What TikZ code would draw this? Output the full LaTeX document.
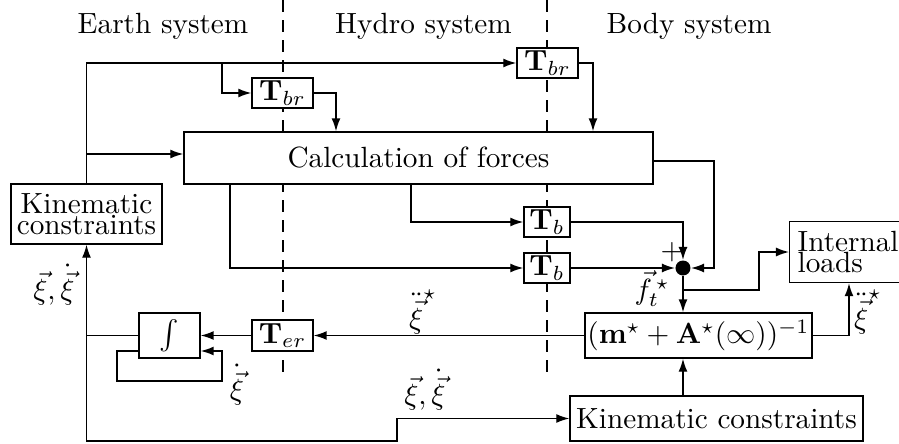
\documentclass[tikz,border=0pt]{standalone}
\usetikzlibrary{arrows.meta}
\def\px{0.342pt}
\begin{document}
\begin{tikzpicture}[x=0.342pt,y=-0.342pt,
  blk/.style={draw, fill=white, line width=0.5pt, inner sep=0pt, align=center},
  sig/.style={-{Latex[length=13*\px,width=9*\px]}, line width=0.5pt},
  wire/.style={line width=0.5pt},
  zone/.style={dash pattern=on 12*\px off 8*\px, line width=0.5pt},
  lbl/.style={inner sep=0pt}]
\useasboundingbox (0,0) rectangle (899,444);

% frame boundaries
\draw[zone] (283,0) -- (283,375);
\draw[zone] (547,0) -- (547,375);

% frame titles
\node[lbl, anchor=base] (earth) at (163,33) {Earth system};
\node[lbl, anchor=base] (hydro) at (423.5,33) {Hydro system};
\node[lbl, anchor=base] (body) at (689,33) {Body system};

% blocks
\node[blk, minimum width=61*\px, minimum height=30*\px] (tbr1) at (282.5,93) {$\mathbf{T}_{br}$};
\node[blk, minimum width=61*\px, minimum height=30*\px] (tbr2) at (547.5,63) {$\mathbf{T}_{br}$};
\node[blk, minimum width=469*\px, minimum height=52*\px] (calc) at (418.5,158) {Calculation of forces};
\node[blk, minimum width=46*\px, minimum height=30*\px] (tb1) at (547,222) {$\mathbf{T}_b$};
\node[blk, minimum width=46*\px, minimum height=30*\px] (tb2) at (547,268) {$\mathbf{T}_b$};
\node[circle, fill, inner sep=0pt, minimum size=15*\px] (sum) at (683,268) {};
\node[blk, minimum width=227*\px, minimum height=45*\px] (inv) at (698.5,335.5) {$(\mathbf{m}^\star+\mathbf{A}^\star(\infty))^{-1}$};
\node[blk, minimum width=293*\px, minimum height=45*\px] (kinb) at (716.5,418.5) {Kinematic constraints};
\node[blk, minimum width=151*\px, minimum height=60*\px] (kinl) at (86.5,214) {Kinematic\\[-4.8pt]constraints};
\node[blk, minimum width=61*\px, minimum height=45*\px] (int) at (169.5,335.5) {$\int$};
\node[blk, minimum width=61*\px, minimum height=31*\px] (ter) at (282.5,335.5) {$\mathbf{T}_{er}$};
\node[draw, line width=0.5pt, inner sep=8*\px, align=left, anchor=west, minimum height=61*\px] (il) at (789,252) {Internal\\[-4.8pt]loads};

% helper coordinates for wire routing
\coordinate (b1) at (222,63);
\coordinate (b2) at (87,154);
\coordinate (x336) at (336,0);
\coordinate (x593) at (593,0);
\coordinate (x230) at (230,0);
\coordinate (x411) at (411,0);
\coordinate (x849) at (849,0);
\coordinate (r1) at (714,161);
\coordinate (b3) at (683,290);
\coordinate (r2) at (759,290);
\coordinate (yl) at (0,351);
\coordinate (j) at (kinl.south |- int.west);

% rotation to the body frame
\draw[sig] (kinl.north) |- (tbr2.west);
\draw[sig] (b1) |- (tbr1.west);
\draw[sig] (b2) -- (b2 -| calc.west);
\draw[sig] (tbr1.east) -| (calc.north -| x336);
\draw[sig] (tbr2.east) -| (calc.north -| x593);

% forces to the summation point
\draw[sig] (calc.south -| x411) |- (tb1.west);
\draw[sig] (calc.south -| x230) |- (tb2.west);
\draw[sig] (tb1.east) -| (sum.north);
\draw[sig] (tb2.east) -- (sum.west);
\draw[sig] (calc.east |- r1) -- (r1) |- (sum.east);
\node[lbl] (plus) at (672,252) {$+$};
\node[lbl] (ft) at (652,289) {$\vec{f}_t^{\,\star}$};

% accelerations
\draw[sig] (sum.south) -- (inv.north -| sum);
\draw[sig] (b3) -- (r2) |- (il.west);
\draw[sig] (inv.east) -| (il.south -| x849);
\node[lbl] (acc2) at (868,312) {$\ddot{\vec{\xi}}^{\star}$};
\draw[sig] (inv.west) -- (ter.east);
\node[lbl] (acc1) at (423,312) {$\ddot{\vec{\xi}}^{\star}$};
\draw[sig] (ter.west) -- (int.east);

% integration loop
\draw[sig] (int.west |- yl) -| (117,381) -| (222,351) -- (int.east |- yl);
\node[lbl] (vel) at (237,385) {$\dot{\vec{\xi}}$};

% states back to the constraints
\draw[wire] (int.west) -- (j);
\draw[sig] (j) -- (kinl.south);
\draw[sig] (j) |- (397,441) |- (kinb.west);
\draw[sig] (kinb.north -| sum) -- (inv.south -| sum);
\node[lbl] (st1) at (54,285) {$\vec{\xi},\dot{\vec{\xi}}$};
\node[lbl] (st2) at (425,390) {$\vec{\xi},\dot{\vec{\xi}}$};
\end{tikzpicture}
\end{document}
